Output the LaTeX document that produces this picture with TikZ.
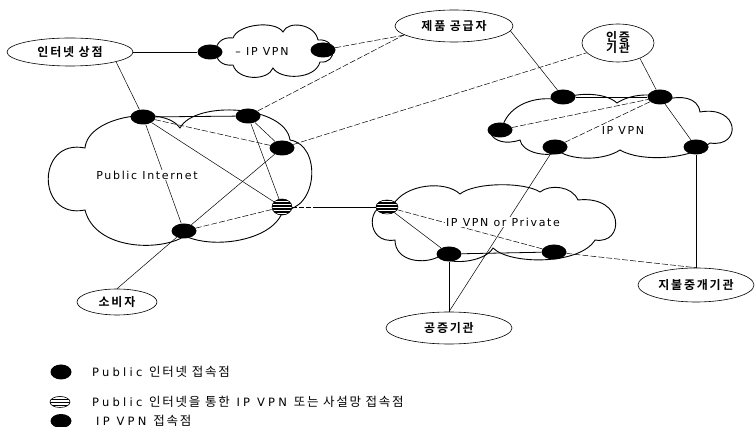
\documentclass[tikz,border=0pt]{standalone}
\usepackage{fontspec}
\setmainfont{DejaVu Sans}[LetterSpace=15]
\newfontfamily\kr{Noto Sans CJK KR}[LetterSpace=15,BoldFont={Noto Sans CJK KR Bold}]
\newfontfamily\legfont{DejaVu Sans}[LetterSpace=28]
\newfontfamily\krlegfam{Noto Sans CJK KR}[LetterSpace=14]
\newcommand\krleg{\krlegfam\fontsize{12.5}{13}\selectfont}
\usetikzlibrary{shapes.geometric,patterns,backgrounds}

\begin{document}
\begin{tikzpicture}[x=1pt,y=-1pt,
  cloudline/.style={draw=black,line width=0.9pt},
  link/.style={line width=0.5pt},
  dlink/.style={line width=0.5pt,dash pattern=on 6pt off 2pt},
  pdot/.style={ellipse,fill=black,minimum width=25pt,minimum height=15pt,inner sep=0pt},
  hdot/.style={ellipse,draw=black,line width=0.6pt,preaction={fill=black},
    pattern=horizontal lines,pattern color=white,minimum width=20pt,minimum height=16pt,inner sep=0pt},
  place/.style={ellipse,draw=black,line width=0.6pt,fill=white,inner sep=0pt,
    font=\kr\bfseries\fontsize{12}{14}\selectfont},
  clab/.style={fill=white,inner sep=1pt,font=\fontsize{11}{13}\selectfont},
  legtext/.style={anchor=west,inner sep=0pt,font=\legfont\fontsize{11.5}{13}\selectfont}]
\useasboundingbox (0,0) rectangle (756,427);

% named places
\node[place,minimum width=126pt,minimum height=28pt] (shop) at (70,52) {인터넷 상점};
\node[place,minimum width=118pt,minimum height=32pt] (supplier) at (454,26) {제품 공급자};
\node[place,minimum width=72pt,minimum height=38pt,align=center] (cert) at (618,43) {인증\\[-3pt]기관};
\node[place,minimum width=80pt,minimum height=26pt] (consumer) at (117,302) {소비자};
\node[place,minimum width=126pt,minimum height=32pt] (notary) at (449,328) {공증기관};
\node[place,minimum width=116pt,minimum height=34pt] (pay) at (696,285) {지불중개기관};

% cloud captions
\node[clab] (lblPI) at (147,175) {Public Internet};
\node[clab] (lblV) at (262,51) {– IP VPN};
\node[clab] (lblR) at (623,130) {IP VPN};
\node[clab] (lblP) at (503,222) {IP VPN or Private};

% access points
\node[pdot] (V1) at (210,52) {};
\node[pdot] (V2) at (323,50) {};
\node[pdot] (A) at (143,117) {};
\node[pdot] (B) at (248,116) {};
\node[pdot] (C) at (282,148) {};
\node[pdot] (D) at (184,231) {};
\node[hdot] (H1) at (282,207) {};
\node[pdot] (R1) at (563,97) {};
\node[pdot] (R2) at (660,97) {};
\node[pdot] (R3) at (500,130) {};
\node[pdot] (R4) at (555,147) {};
\node[pdot] (R5) at (696,147) {};
\node[hdot,minimum width=22pt,minimum height=14pt] (H2) at (387,207) {};
\node[pdot] (P1) at (449,254) {};
\node[pdot] (P2) at (554,252) {};

% legend
\node[pdot,minimum width=21pt,minimum height=15pt] (L1) at (61,372) {};
\node[ellipse,draw=black,line width=0.6pt,fill=white,pattern=horizontal lines,
  minimum width=20pt,minimum height=11pt,inner sep=0pt] (L2) at (60,402) {};
\node[pdot,minimum width=21pt,minimum height=14pt] (L3) at (61,421) {};
\node[legtext] (T1) at (92,372) {Public {\krleg 인터넷 접속점}};
\node[legtext] (T2) at (92,402) {Public {\krleg 인터넷을 통한} IP VPN {\krleg 또는 사설망 접속점}};
\node[legtext] (T3) at (96,421) {IP VPN {\krleg 접속점}};

\begin{scope}[on background layer]
% clouds
\draw[cloudline] (85,210) .. controls (36,220) and (36,138) .. (85,148)
  .. controls (88,115) and (165,105) .. (180,128)
  .. controls (195,100) and (285,105) .. (290,140)
  .. controls (322,145) and (318,210) .. (283,210)
  .. controls (275,240) and (215,250) .. (185,236)
  .. controls (160,252) and (95,250) .. cycle;
\draw[cloudline] (233,65) .. controls (210,68) and (210,35) .. (233,38)
  .. controls (238,24) and (275,20) .. (283,32)
  .. controls (288,20) and (315,24) .. (318,40)
  .. controls (337,38) and (338,64) .. (320,62)
  .. controls (315,80) and (280,80) .. (273,68)
  .. controls (268,81) and (238,81) .. cycle;
\draw[cloudline] (520,140) .. controls (490,150) and (480,122) .. (503,125)
  .. controls (510,105) and (535,95) .. (560,100)
  .. controls (575,92) and (605,92) .. (617,103)
  .. controls (630,94) and (655,92) .. (665,100)
  .. controls (680,95) and (698,97) .. (700,112)
  .. controls (740,105) and (742,148) .. (710,143)
  .. controls (690,160) and (640,162) .. (620,150)
  .. controls (605,160) and (575,161) .. (560,152)
  .. controls (545,158) and (522,152) .. cycle;
\draw[cloudline] (395,240) .. controls (365,245) and (365,200) .. (393,205)
  .. controls (405,184) and (445,180) .. (460,194)
  .. controls (475,182) and (525,182) .. (540,192)
  .. controls (550,184) and (572,186) .. (578,200)
  .. controls (625,195) and (625,245) .. (595,240)
  .. controls (580,265) and (510,265) .. (493,248)
  .. controls (485,262) and (450,266) .. (440,256)
  .. controls (425,265) and (395,262) .. cycle;

% links
\draw[link,line width=0.8pt] (shop.east) -- (V1);
\draw[link] (shop.-12) -- (A);
\draw[link,line width=0.8pt] (A) -- (B);
\draw[dlink] (A) -- (C);
\draw[link] (A) -- (H1);
\draw[link] (A) -- (D);
\draw[link] (B) -- (C);
\draw[link] (B) -- (H1);
\draw[link] (D) -- (C);
\draw[dlink] (D) -- (H1);
\draw[link] (D) -- (consumer.north);
\draw[dlink] (V2) -- (supplier);
\draw[dlink] (B) -- (supplier.190);
\draw[dlink] (C) -- (cert);
\draw[link,line width=0.6pt,dash pattern=on 5pt off 2pt on 5pt off 2pt on 5pt off 2pt on 200pt] (H1) -- (H2);
\draw[link] (supplier.-5) -- (R1);
\draw[link] (cert.-35) -- (R2);
\draw[link,line width=0.8pt] (R1) -- (R2);
\draw[dlink] (R3) -- (R2);
\draw[dlink] (R4) -- (R2);
\draw[link] (R2) -- (R5);
\draw[link] (R5) -- (pay.north);
\draw[link] (R4) -- (notary.north);
\draw[link] (H2) -- (P1);
\draw[dlink] (H2) -- (P2);
\draw[link,line width=0.8pt] (P1) -- (P2);
\draw[link] (P1) -- (notary.north);
\draw[dlink] (P2) -- (pay.north);
\end{scope}
\end{tikzpicture}
\end{document}
